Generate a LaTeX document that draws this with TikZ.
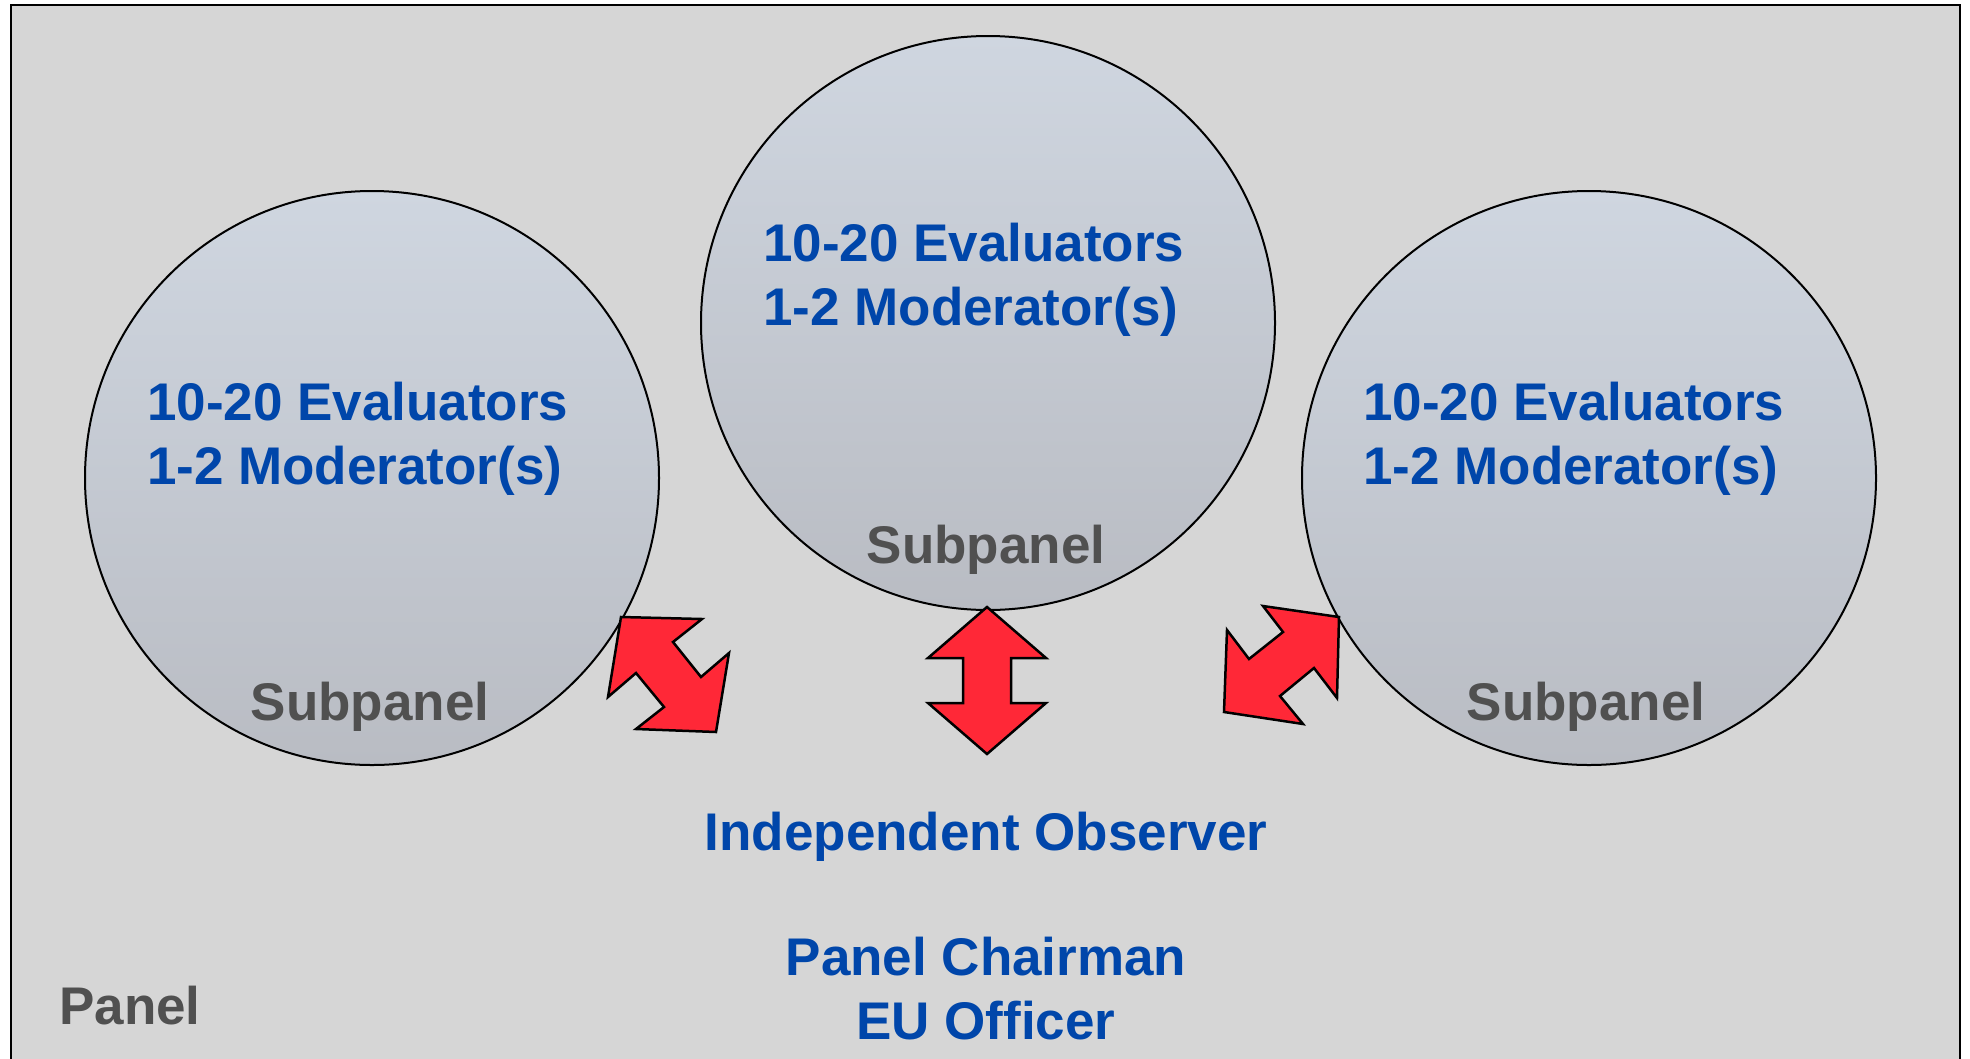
\documentclass[tikz,border=0pt]{standalone}
\usepackage{fontspec}
\setmainfont{Liberation Sans}
\definecolor{panelgrey}{HTML}{D6D6D6}
\definecolor{circtop}{HTML}{CFD6E0}
\definecolor{circbot}{HTML}{B9BCC3}
\definecolor{arrowred}{HTML}{FF2837}
\definecolor{textblue}{HTML}{0046AA}
\definecolor{textgrey}{HTML}{505050}
\tikzset{
	every node/.append style={font=\bfseries\fontsize{53}{64}\selectfont, inner sep=0pt},
	sub/.style={draw,
		    circle,
		    line width=2pt,
		    minimum size=574pt,
		    top color=circtop,
		    bottom color=circbot},
	members/.style={text=textblue, align=left, anchor=base west},
	role/.style={text=textblue, align=center, anchor=base},
	tag/.style={text=textgrey, anchor=base},
	twoway/.style={draw, line width=2.5pt, fill=arrowred, line join=miter}
}
\begin{document}
\begin{tikzpicture}[x=1pt, y=-1pt]

	\useasboundingbox (0,0) rectangle (1970,1058);
	\draw [line width=2.5pt, fill=panelgrey] (11,5) rectangle (1960,1080);

	\node [sub] (subL) at (372,478) {};
	\node [sub] (subM) at (988,323) {};
	\node [sub] (subR) at (1589,478) {};

	\node [members] (teamL) at (147,484) {10-20 Evaluators\\1-2 Moderator(s)};
	\node [members] (teamM) at (763,325) {10-20 Evaluators\\1-2 Moderator(s)};
	\node [members] (teamR) at (1363,484) {10-20 Evaluators\\1-2 Moderator(s)};

	\node [tag] (tagL) at (370,720) {Subpanel};
	\node [tag] (tagM) at (986,563) {Subpanel};
	\node [tag] (tagR) at (1586,720) {Subpanel};

	\node [role] (observer) at (986,850) {Independent Observer};
	\node [role] (chair) at (986,1039) {Panel Chairman\\EU Officer};
	\node [tag, anchor=base west] (panel) at (59,1024) {Panel};

	\draw [twoway] (621,617) -- (702,619) -- (673,642) -- (701,677) -- (729,653)
		-- (716,732) -- (636,729) -- (664,707) -- (636,673) -- (608,697) -- cycle;
	\draw [twoway] (987,607) -- (1046,658) -- (1011,658) -- (1011,703) -- (1046,703)
		-- (987,754) -- (928,703) -- (963,703) -- (963,658) -- (928,658) -- cycle;
	\draw [twoway] (1263,606) -- (1339,617) -- (1337,698) -- (1314,668) -- (1280,696)
		-- (1303,724) -- (1224,712) -- (1227,630) -- (1249,659) -- (1283,632) -- cycle;

\end{tikzpicture}
\end{document}
